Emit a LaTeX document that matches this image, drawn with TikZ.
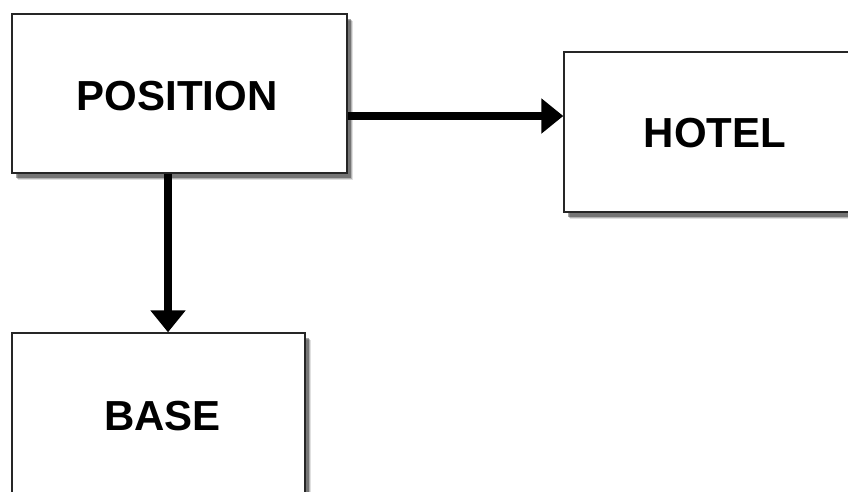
\documentclass[tikz,border=0pt]{standalone}
\usepackage{fontspec}
\setmainfont{Liberation Sans}
\usetikzlibrary{arrows.meta,shadows}
\tikzset{
  box/.style={draw=black!85, line width=1.4pt, fill=white, rectangle,
    font=\bfseries\fontsize{42}{42}\selectfont,
    general shadow={shadow xshift=6pt, shadow yshift=-7pt, fill=black, opacity=0.12},
    general shadow={shadow xshift=5pt, shadow yshift=-6pt, fill=black, opacity=0.2},
    general shadow={shadow xshift=4pt, shadow yshift=-4.5pt, fill=black, opacity=0.35}},
  flow/.style={line width=8pt, -{Triangle[width=34pt,length=22pt]}}
}
\begin{document}
\begin{tikzpicture}[x=1pt,y=-1pt]
  \useasboundingbox (0,0) rectangle (848,491);
  \begin{scope}
    \clip (0,0) rectangle (848,491);
    \node[box, minimum width=335pt, minimum height=159pt] (pos) at (179.5,93.5) {};
    \node[box, minimum width=302pt, minimum height=160pt] (hotel) at (715,132) {};
    \node[box, minimum width=293pt, minimum height=160pt] (base) at (158.5,413) {};
    \node[font=\bfseries\fontsize{42}{42}\selectfont] (postext) at ([shift={(-2.5pt,-3pt)}]pos.center) {POSITION};
    \node[font=\bfseries\fontsize{42}{42}\selectfont] (hoteltext) at ([shift={(0pt,-1.5pt)}]hotel.center) {HOTEL};
    \node[font=\bfseries\fontsize{42}{42}\selectfont] (basetext) at ([shift={(4pt,-3.5pt)}]base.center) {BASE};
    \coordinate (hstart) at ([yshift=-22.5pt]pos.east);
    \coordinate (vstart) at ([xshift=-11.5pt]pos.south);
    \draw[flow] (hstart) -- (hotel.west |- hstart);
    \draw[flow] (vstart) -- (base.north -| vstart);
  \end{scope}
\end{tikzpicture}
\end{document}
